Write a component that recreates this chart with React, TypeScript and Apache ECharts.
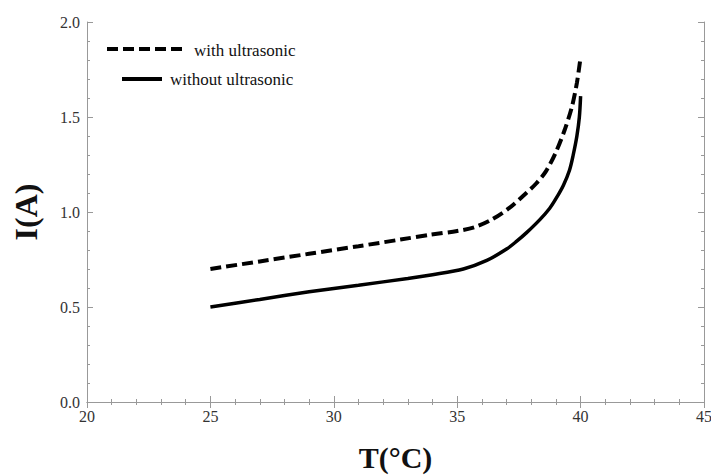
import React, { useEffect, useRef } from "react";
import * as echarts from "echarts";

const withT = [25, 27, 29, 31, 32.7, 33.9, 35.0, 35.7, 36.4, 37.1, 37.8, 38.2, 38.6, 39.0, 39.35, 39.65, 39.85, 40];
const withI = [0.70, 0.74, 0.78, 0.82, 0.855, 0.88, 0.90, 0.92, 0.96, 1.02, 1.10, 1.15, 1.215, 1.315, 1.43, 1.555, 1.68, 1.815];
const withoutT = [25, 27, 29, 31, 33, 34, 35.25, 36.2, 37.0, 37.4, 37.8, 38.35, 38.75, 39.0, 39.3, 39.55, 39.7, 39.85, 39.95, 40];
const withoutI = [0.50, 0.54, 0.58, 0.615, 0.65, 0.67, 0.70, 0.745, 0.805, 0.845, 0.89, 0.96, 1.02, 1.07, 1.14, 1.22, 1.30, 1.40, 1.50, 1.61];

const seriesNames = ["with ultrasonic", "without ultrasonic"];
const xName = "T(°C)";
const yName = "I(A)";

const FONT = "'Liberation Serif', 'Times New Roman', serif";
const AXIS_COLOR = "#999";

export default function App() {
  const ref = useRef<HTMLDivElement>(null);
  useEffect(() => {
    if (!ref.current) return;
    const chart = echarts.init(ref.current, null, { renderer: "svg" });
    const axisCommon = {
      axisLine: { show: true, lineStyle: { color: AXIS_COLOR, width: 1 } },
      axisTick: { show: true, inside: true, length: 6, lineStyle: { color: AXIS_COLOR } },
      minorTick: { show: true, splitNumber: 5, length: 3, lineStyle: { color: AXIS_COLOR } },
      splitLine: { show: false },
      minorSplitLine: { show: false },
    };
    chart.setOption({
      animation: false,
      backgroundColor: "#fff",
      grid: {
        left: 87,
        right: 7,
        top: 22,
        bottom: 73,
        containLabel: false,
        outerBoundsMode: "none",
      },
      xAxis: [
        {
          type: "value",
          min: 20,
          max: 45,
          interval: 5,
          position: "bottom",
          name: xName,
          nameLocation: "middle",
          nameGap: 40,
          nameTextStyle: {
            fontFamily: FONT,
            fontSize: 30,
            fontWeight: "bold",
            color: "#111",
            lineHeight: 30,
          },
          axisLabel: { fontFamily: FONT, fontSize: 16, color: "#333", margin: 6 },
          ...axisCommon,
        },
        {
          type: "value",
          min: 20,
          max: 45,
          interval: 5,
          position: "top",
          axisLabel: { show: false },
          ...axisCommon,
        },
      ],
      yAxis: [
        {
          type: "value",
          min: 0,
          max: 2,
          interval: 0.5,
          position: "left",
          name: yName,
          nameLocation: "middle",
          nameRotate: 90,
          nameGap: 45,
          nameTextStyle: { fontFamily: FONT, fontSize: 32, fontWeight: "bold", color: "#111" },
          axisLabel: {
            fontFamily: FONT,
            fontSize: 16,
            color: "#333",
            margin: 7,
            formatter: (v: number) => v.toFixed(1),
          },
          ...axisCommon,
        },
        {
          type: "value",
          min: 0,
          max: 2,
          interval: 0.5,
          position: "right",
          axisLabel: { show: false },
          ...axisCommon,
        },
      ],
      graphic: [
        {
          type: "line",
          shape: { x1: 107, y1: 49, x2: 182, y2: 49 },
          style: { stroke: "#000", lineWidth: 4, lineDash: [11, 5] },
        },
        {
          type: "text",
          x: 194,
          y: 50,
          style: {
            text: seriesNames[0],
            fontFamily: FONT,
            fontSize: 17,
            fill: "#111",
            verticalAlign: "middle",
            align: "left",
          },
        },
        {
          type: "line",
          shape: { x1: 122, y1: 79, x2: 162, y2: 79 },
          style: { stroke: "#000", lineWidth: 4 },
        },
        {
          type: "text",
          x: 170,
          y: 79,
          style: {
            text: seriesNames[1],
            fontFamily: FONT,
            fontSize: 17,
            fill: "#111",
            verticalAlign: "middle",
            align: "left",
          },
        },
      ],
      series: [
        {
          name: seriesNames[0],
          type: "line",
          data: withT.map((t, i) => [t, withI[i]]),
          symbol: "none",
          smooth: 0.3,
          lineStyle: { color: "#000", width: 4, type: [11, 5] },
        },
        {
          name: seriesNames[1],
          type: "line",
          data: withoutT.map((t, i) => [t, withoutI[i]]),
          symbol: "none",
          smooth: 0.3,
          lineStyle: { color: "#000", width: 3.5 },
        },
      ],
    });
    return () => chart.dispose();
  }, []);
  return (
    <div
      ref={ref}
      style={{ position: "fixed", left: 0, top: 0, width: 711, height: 475 }}
    />
  );
}
